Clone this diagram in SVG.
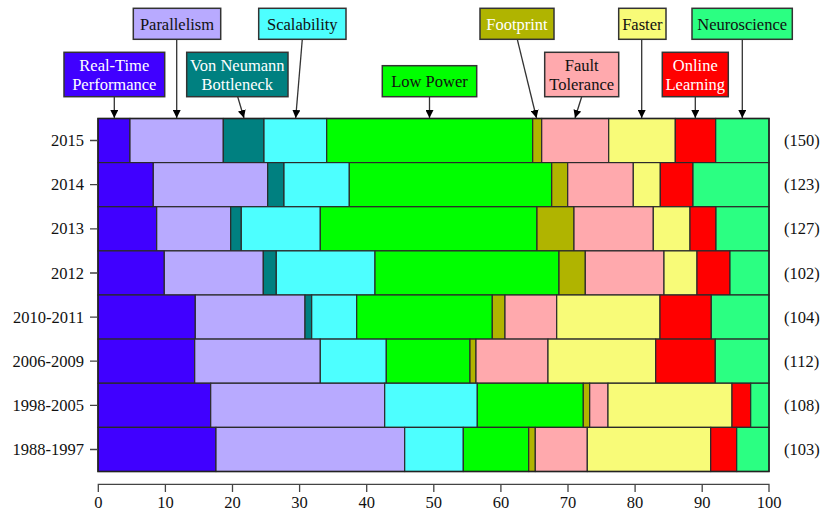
<svg xmlns="http://www.w3.org/2000/svg" width="822" height="510" viewBox="0 0 822 510">
<style>
text{font-family:"Liberation Serif","Times New Roman",serif;font-size:16.5px;fill:#111}
.w{fill:#fff}
.lab{stroke:#333;stroke-width:1.5}
.seg{stroke:#2a2a2a;stroke-width:1.2}
.rt{fill:#4000ff}.pa{fill:#b8aaff}.vn{fill:#008080}.sc{fill:#4dffff}.lp{fill:#00ff00}
.fp{fill:#b0b400}.ft{fill:#ffa9ad}.fa{fill:#f8fb78}.ol{fill:#ff0000}.ns{fill:#2bff82}
.con{stroke:#333;stroke-width:1.3;fill:none}
.ax{stroke:#444;stroke-width:1.3;fill:none}
</style>
<defs>
<marker id="ah" viewBox="0 0 10 10" refX="10" refY="5" markerWidth="8" markerHeight="8" markerUnits="userSpaceOnUse" orient="auto">
<path d="M0,0 L10,5 L0,10 Z" fill="#000"/>
</marker>
</defs>

<g id="bars">
<g id="row-2015">
<rect class="seg rt" x="98" y="118.5" width="32" height="44.1"/>
<rect class="seg pa" x="130" y="118.5" width="93.3" height="44.1"/>
<rect class="seg vn" x="223.3" y="118.5" width="40.7" height="44.1"/>
<rect class="seg sc" x="264" y="118.5" width="62.7" height="44.1"/>
<rect class="seg lp" x="326.7" y="118.5" width="206" height="44.1"/>
<rect class="seg fp" x="532.7" y="118.5" width="9" height="44.1"/>
<rect class="seg ft" x="541.7" y="118.5" width="67" height="44.1"/>
<rect class="seg fa" x="608.7" y="118.5" width="66.6" height="44.1"/>
<rect class="seg ol" x="675.3" y="118.5" width="40.4" height="44.1"/>
<rect class="seg ns" x="715.7" y="118.5" width="53.3" height="44.1"/>
</g>
<g id="row-2014">
<rect class="seg rt" x="98" y="162.6" width="55.3" height="44.1"/>
<rect class="seg pa" x="153.3" y="162.6" width="114.4" height="44.1"/>
<rect class="seg vn" x="267.7" y="162.6" width="16.3" height="44.1"/>
<rect class="seg sc" x="284" y="162.6" width="65.3" height="44.1"/>
<rect class="seg lp" x="349.3" y="162.6" width="202.4" height="44.1"/>
<rect class="seg fp" x="551.7" y="162.6" width="16" height="44.1"/>
<rect class="seg ft" x="567.7" y="162.6" width="65.6" height="44.1"/>
<rect class="seg fa" x="633.3" y="162.6" width="27" height="44.1"/>
<rect class="seg ol" x="660.3" y="162.6" width="32.7" height="44.1"/>
<rect class="seg ns" x="693" y="162.6" width="76" height="44.1"/>
</g>
<g id="row-2013">
<rect class="seg rt" x="98" y="206.75" width="58.7" height="44.1"/>
<rect class="seg pa" x="156.7" y="206.75" width="74" height="44.1"/>
<rect class="seg vn" x="230.7" y="206.75" width="10.6" height="44.1"/>
<rect class="seg sc" x="241.3" y="206.75" width="79" height="44.1"/>
<rect class="seg lp" x="320.3" y="206.75" width="216.7" height="44.1"/>
<rect class="seg fp" x="537" y="206.75" width="37" height="44.1"/>
<rect class="seg ft" x="574" y="206.75" width="79.3" height="44.1"/>
<rect class="seg fa" x="653.3" y="206.75" width="36.7" height="44.1"/>
<rect class="seg ol" x="690" y="206.75" width="26" height="44.1"/>
<rect class="seg ns" x="716" y="206.75" width="53" height="44.1"/>
</g>
<g id="row-2012">
<rect class="seg rt" x="98" y="250.9" width="66.3" height="44.1"/>
<rect class="seg pa" x="164.3" y="250.9" width="99" height="44.1"/>
<rect class="seg vn" x="263.3" y="250.9" width="13" height="44.1"/>
<rect class="seg sc" x="276.3" y="250.9" width="98.7" height="44.1"/>
<rect class="seg lp" x="375" y="250.9" width="184" height="44.1"/>
<rect class="seg fp" x="559" y="250.9" width="26.3" height="44.1"/>
<rect class="seg ft" x="585.3" y="250.9" width="78.7" height="44.1"/>
<rect class="seg fa" x="664" y="250.9" width="33" height="44.1"/>
<rect class="seg ol" x="697" y="250.9" width="33" height="44.1"/>
<rect class="seg ns" x="730" y="250.9" width="39" height="44.1"/>
</g>
<g id="row-2010-2011">
<rect class="seg rt" x="98" y="295" width="97.3" height="44.1"/>
<rect class="seg pa" x="195.3" y="295" width="109.7" height="44.1"/>
<rect class="seg vn" x="305" y="295" width="6.7" height="44.1"/>
<rect class="seg sc" x="311.7" y="295" width="45" height="44.1"/>
<rect class="seg lp" x="356.7" y="295" width="135.6" height="44.1"/>
<rect class="seg fp" x="492.3" y="295" width="12.7" height="44.1"/>
<rect class="seg ft" x="505" y="295" width="51.7" height="44.1"/>
<rect class="seg fa" x="556.7" y="295" width="103.3" height="44.1"/>
<rect class="seg ol" x="660" y="295" width="51.3" height="44.1"/>
<rect class="seg ns" x="711.3" y="295" width="57.7" height="44.1"/>
</g>
<g id="row-2006-2009">
<rect class="seg rt" x="98" y="339.1" width="96.7" height="44.1"/>
<rect class="seg pa" x="194.7" y="339.1" width="125.6" height="44.1"/>
<rect class="seg sc" x="320.3" y="339.1" width="66" height="44.1"/>
<rect class="seg lp" x="386.3" y="339.1" width="83.7" height="44.1"/>
<rect class="seg fp" x="470" y="339.1" width="6" height="44.1"/>
<rect class="seg ft" x="476" y="339.1" width="72" height="44.1"/>
<rect class="seg fa" x="548" y="339.1" width="107.7" height="44.1"/>
<rect class="seg ol" x="655.7" y="339.1" width="59.6" height="44.1"/>
<rect class="seg ns" x="715.3" y="339.1" width="53.7" height="44.1"/>
</g>
<g id="row-1998-2005">
<rect class="seg rt" x="98" y="383.25" width="112.7" height="44.1"/>
<rect class="seg pa" x="210.7" y="383.25" width="174" height="44.1"/>
<rect class="seg sc" x="384.7" y="383.25" width="92.6" height="44.1"/>
<rect class="seg lp" x="477.3" y="383.25" width="106" height="44.1"/>
<rect class="seg fp" x="583.3" y="383.25" width="6.4" height="44.1"/>
<rect class="seg ft" x="589.7" y="383.25" width="18.3" height="44.1"/>
<rect class="seg fa" x="608" y="383.25" width="124" height="44.1"/>
<rect class="seg ol" x="732" y="383.25" width="18.7" height="44.1"/>
<rect class="seg ns" x="750.7" y="383.25" width="18.3" height="44.1"/>
</g>
<g id="row-1988-1997">
<rect class="seg rt" x="98" y="427.4" width="118" height="44.1"/>
<rect class="seg pa" x="216" y="427.4" width="188.7" height="44.1"/>
<rect class="seg sc" x="404.7" y="427.4" width="58.6" height="44.1"/>
<rect class="seg lp" x="463.3" y="427.4" width="65.4" height="44.1"/>
<rect class="seg fp" x="528.7" y="427.4" width="6.6" height="44.1"/>
<rect class="seg ft" x="535.3" y="427.4" width="52" height="44.1"/>
<rect class="seg fa" x="587.3" y="427.4" width="123.4" height="44.1"/>
<rect class="seg ol" x="710.7" y="427.4" width="26" height="44.1"/>
<rect class="seg ns" x="736.7" y="427.4" width="32.3" height="44.1"/>
</g>
<rect x="98" y="118.5" width="671" height="353" fill="none" stroke="#222" stroke-width="1.5"/>
</g>

<g id="y-axis">
<g class="ax">
<path d="M90,140.5H98M90,184.7H98M90,228.8H98M90,273H98M90,317.1H98M90,361.2H98M90,405.3H98M90,449.5H98"/>
</g>
<g text-anchor="end">
<text x="84" y="146">2015</text>
<text x="84" y="190.2">2014</text>
<text x="84" y="234.3">2013</text>
<text x="84" y="278.5">2012</text>
<text x="84" y="322.6">2010-2011</text>
<text x="84" y="366.7">2006-2009</text>
<text x="84" y="410.8">1998-2005</text>
<text x="84" y="455">1988-1997</text>
</g>
<g>
<text x="784" y="146">(150)</text>
<text x="784" y="190.2">(123)</text>
<text x="784" y="234.3">(127)</text>
<text x="784" y="278.5">(102)</text>
<text x="784" y="322.6">(104)</text>
<text x="784" y="366.7">(112)</text>
<text x="784" y="410.8">(108)</text>
<text x="784" y="455">(103)</text>
</g>
</g>

<g id="x-axis">
<path class="ax" d="M98.3,492V484.3H769V492M165.4,484.3V492M232.5,484.3V492M299.6,484.3V492M366.7,484.3V492M433.8,484.3V492M500.9,484.3V492M568,484.3V492M635.1,484.3V492M702.2,484.3V492"/>
<g text-anchor="middle">
<text x="98.3" y="507.5">0</text>
<text x="165.4" y="507.5">10</text>
<text x="232.5" y="507.5">20</text>
<text x="299.6" y="507.5">30</text>
<text x="366.7" y="507.5">40</text>
<text x="433.8" y="507.5">50</text>
<text x="500.9" y="507.5">60</text>
<text x="568" y="507.5">70</text>
<text x="635.1" y="507.5">80</text>
<text x="702.2" y="507.5">90</text>
<text x="769" y="507.5">100</text>
</g>
</g>

<g id="connectors">
<line class="con" x1="114.3" y1="96.7" x2="114.3" y2="118" marker-end="url(#ah)"/>
<line class="con" x1="176.7" y1="39.3" x2="176.7" y2="118" marker-end="url(#ah)"/>
<line class="con" x1="237.7" y1="96.7" x2="244" y2="118" marker-end="url(#ah)"/>
<line class="con" x1="302.3" y1="39.3" x2="295.7" y2="118" marker-end="url(#ah)"/>
<line class="con" x1="429.5" y1="96.7" x2="429.5" y2="118" marker-end="url(#ah)"/>
<line class="con" x1="517.3" y1="39.3" x2="536.5" y2="118" marker-end="url(#ah)"/>
<line class="con" x1="581.7" y1="96.7" x2="575" y2="118" marker-end="url(#ah)"/>
<line class="con" x1="641.7" y1="39.3" x2="641.7" y2="118" marker-end="url(#ah)"/>
<line class="con" x1="695.3" y1="96.7" x2="695.3" y2="118" marker-end="url(#ah)"/>
<line class="con" x1="742.3" y1="39.3" x2="742.3" y2="118" marker-end="url(#ah)"/>
</g>

<g id="label-realtime">
<rect class="lab rt" x="64" y="52.3" width="100.7" height="44.4"/>
<text class="w" x="114.3" y="70.5" text-anchor="middle">Real-Time</text>
<text class="w" x="114.3" y="90" text-anchor="middle">Performance</text>
</g>
<g id="label-parallelism">
<rect class="lab pa" x="133.3" y="8.3" width="87.4" height="31"/>
<text x="177" y="29.5" text-anchor="middle">Parallelism</text>
</g>
<g id="label-vonneumann">
<rect class="lab vn" x="186.7" y="52.3" width="101.3" height="44.4"/>
<text class="w" x="237.3" y="70.5" text-anchor="middle">Von Neumann</text>
<text class="w" x="237.3" y="90" text-anchor="middle">Bottleneck</text>
</g>
<g id="label-scalability">
<rect class="lab sc" x="258.7" y="8.3" width="87.3" height="31"/>
<text x="302.3" y="29.5" text-anchor="middle">Scalability</text>
</g>
<g id="label-lowpower">
<rect class="lab lp" x="382.3" y="65.7" width="94.4" height="31"/>
<text x="429.5" y="87" text-anchor="middle">Low Power</text>
</g>
<g id="label-footprint">
<rect class="lab fp" x="480" y="8.3" width="74" height="31"/>
<text class="w" x="517" y="29.5" text-anchor="middle">Footprint</text>
</g>
<g id="label-fault">
<rect class="lab ft" x="544.7" y="52.3" width="74" height="44.4"/>
<text x="581.7" y="70.5" text-anchor="middle">Fault</text>
<text x="581.7" y="90" text-anchor="middle">Tolerance</text>
</g>
<g id="label-faster">
<rect class="lab fa" x="618.7" y="8.3" width="47.3" height="31"/>
<text x="642.3" y="29.5" text-anchor="middle">Faster</text>
</g>
<g id="label-online">
<rect class="lab ol" x="662.3" y="52.3" width="66" height="44.4"/>
<text class="w" x="695.3" y="70.5" text-anchor="middle">Online</text>
<text class="w" x="695.3" y="90" text-anchor="middle">Learning</text>
</g>
<g id="label-neuroscience">
<rect class="lab ns" x="692" y="8.3" width="100.3" height="31"/>
<text x="742.2" y="29.5" text-anchor="middle">Neuroscience</text>
</g>
</svg>
